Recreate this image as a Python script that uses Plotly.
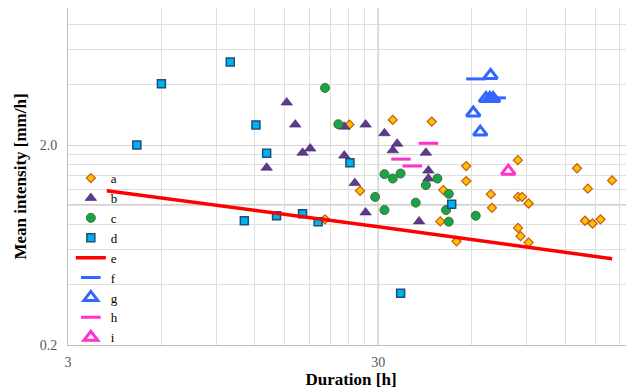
import plotly.graph_objects as go

# ---- data ----
a_x = [24.2, 33.4, 44.6, 57.6, 57.6, 84.5, 131, 142, 170, 26.2, 48.6, 69.1, 84.6, 87.2, 91.5,
       69.7, 47.5, 53.6, 84.6, 86.2, 91.5, 139, 147, 156, 20.2]
a_y = [2.53, 2.67, 2.62, 1.57, 1.32, 1.68, 1.53, 1.21, 1.33, 1.18, 1.19, 1.135, 1.10, 1.10, 1.02,
       0.97, 0.83, 0.66, 0.77, 0.70, 0.65, 0.836, 0.81, 0.85, 0.85]

b_x = [15.2, 16.2, 13.1, 17.1, 18.1, 23.3, 27.3, 23.3, 25.2, 27.3, 31.4, 34.5, 33.4, 42.7, 43.5, 43.5, 40.6]
b_y = [3.26, 2.53, 1.54, 1.83, 1.92, 2.47, 2.53, 1.77, 1.29, 0.92, 2.29, 2.03, 1.88, 1.83, 1.49, 1.36, 0.83]

c_x = [20.2, 22.3, 29.3, 31.4, 33.4, 35.4, 46.5, 42.7, 50.6, 39.6, 31.4, 49.6, 50.6, 61.8]
c_y = [3.86, 2.54, 1.10, 1.43, 1.36, 1.44, 1.36, 1.26, 1.14, 1.03, 0.946, 0.946, 0.827, 0.886]

d_x = [5.0, 6.0, 10.0, 12.1, 13.1, 24.3, 11.1, 14.1, 17.1, 19.2, 35.4, 51.7]
d_y = [2.0, 4.05, 5.2, 2.52, 1.82, 1.63, 0.836, 0.886, 0.907, 0.827, 0.363, 1.01]

e_x = [4.0, 30.0, 170.0]
e_y = [1.18, 0.78, 0.54]

f_x = [61.9, 71.9]
f_y = [4.28, 3.44]

g_x = [69.0, 66.7, 68.6, 70.3, 60.7, 63.9]
g_y = [4.45, 3.42, 3.42, 3.42, 2.89, 2.32]

h_x = [43.5, 35.5, 38.6]
h_y = [2.04, 1.70, 1.57]

i_x = [78.7]
i_y = [1.48]

x_ticks = [3, 30]
x_ticktext = ["3", "30"]
x_minor = [6, 9, 12, 15, 18, 21, 24, 27, 60, 90, 120, 150, 180]
y_ticks = [0.2, 2.0]
y_ticktext = ["0.2", "2.0"]
y_minor = [0.4, 0.6, 0.8, 1.0, 1.2, 1.4, 1.6, 1.8, 4, 6, 8, 10]

SERIF = "Liberation Serif, Times New Roman, serif"

fig = go.Figure()

fig.add_trace(go.Scatter(x=a_x, y=a_y, mode="markers", name="a",
                         marker=dict(symbol="diamond", size=7, color="#FFC000",
                                     line=dict(color="#C55A11", width=1.2))))
fig.add_trace(go.Scatter(x=b_x, y=b_y, mode="markers", name="b",
                         marker=dict(symbol="triangle-up", size=10, color="#5E3A8E",
                                     line=dict(color="#3B2363", width=0.6))))
fig.add_trace(go.Scatter(x=c_x, y=c_y, mode="markers", name="c",
                         marker=dict(symbol="circle", size=9, color="#13A64B",
                                     line=dict(color="#4D6B2E", width=1))))
fig.add_trace(go.Scatter(x=d_x, y=d_y, mode="markers", name="d",
                         marker=dict(symbol="square", size=8, color="#00B0F0",
                                     line=dict(color="#1F4E79", width=1.5))))
fig.add_trace(go.Scatter(x=e_x, y=e_y, mode="lines", name="e",
                         line=dict(color="#FF0000", width=3.5)))
fig.add_trace(go.Scatter(x=f_x, y=f_y, mode="markers", name="f",
                         marker=dict(symbol="line-ew", size=14,
                                     line=dict(color="#3366FF", width=3))))
fig.add_trace(go.Scatter(x=g_x, y=g_y, mode="markers", name="g",
                         marker=dict(symbol="triangle-up-open", size=12, color="#3366FF",
                                     line=dict(color="#3366FF", width=3))))
fig.add_trace(go.Scatter(x=h_x, y=h_y, mode="markers", name="h",
                         marker=dict(symbol="line-ew", size=14,
                                     line=dict(color="#FF33CC", width=3))))
fig.add_trace(go.Scatter(x=i_x, y=i_y, mode="markers", name="i",
                         marker=dict(symbol="triangle-up-open", size=12, color="#FF33CC",
                                     line=dict(color="#FF33CC", width=3))))

# darker axis-crossing lines (x axis crosses at 1.0, y axis crosses at 30)
fig.add_shape(type="line", xref="paper", x0=0, x1=1, yref="y", y0=1.0, y1=1.0,
              line=dict(color="#A6A6A6", width=1.2), layer="below")
fig.add_shape(type="line", yref="paper", y0=0, y1=1, xref="x", x0=30, x1=30,
              line=dict(color="#A6A6A6", width=1.2), layer="below")

# the page body has an 8px margin, so the figure is sized/offset to compensate
fig.update_xaxes(type="log", range=[0.47712, 2.30103],
                 tickvals=x_ticks, ticktext=x_ticktext,
                 ticks="outside", ticklen=4, tickcolor="rgba(0,0,0,0)",
                 tickfont=dict(family=SERIF, size=14, color="#595959"),
                 showgrid=True, gridcolor="#D4D4D4", gridwidth=1,
                 minor=dict(tickvals=x_minor, showgrid=True, gridcolor="#DEDEDE", gridwidth=1,
                            ticks=""),
                 showline=True, linecolor="#BFBFBF", linewidth=1, mirror=True,
                 title=dict(text="<b>Duration [h]</b>", standoff=2,
                            font=dict(family=SERIF, size=17, color="#000000")))
fig.update_yaxes(type="log", range=[-0.69897, 0.98603],
                 tickvals=y_ticks, ticktext=y_ticktext,
                 ticks="outside", ticklen=7, tickcolor="rgba(0,0,0,0)",
                 tickfont=dict(family=SERIF, size=14, color="#595959"),
                 showgrid=True, gridcolor="#D4D4D4", gridwidth=1,
                 minor=dict(tickvals=y_minor, showgrid=True, gridcolor="#DEDEDE", gridwidth=1,
                            ticks=""),
                 showline=True, linecolor="#BFBFBF", linewidth=1,
                 title=dict(text="<b>Mean intensity [mm/h]</b>", standoff=8,
                            font=dict(family=SERIF, size=17, color="#000000")))

fig.update_layout(
    width=626, height=384,
    margin=dict(l=60, r=0, t=0, b=47, autoexpand=False),
    paper_bgcolor="#FFFFFF", plot_bgcolor="#FFFFFF",
    showlegend=True,
    legend=dict(x=0.005, y=-0.024, xanchor="left", yanchor="bottom",
                bgcolor="rgba(0,0,0,0)", borderwidth=0,
                font=dict(family=SERIF, size=13, color="#000000"),
                tracegroupgap=0),
    font=dict(family=SERIF),
)

fig.write_html("out.html")
